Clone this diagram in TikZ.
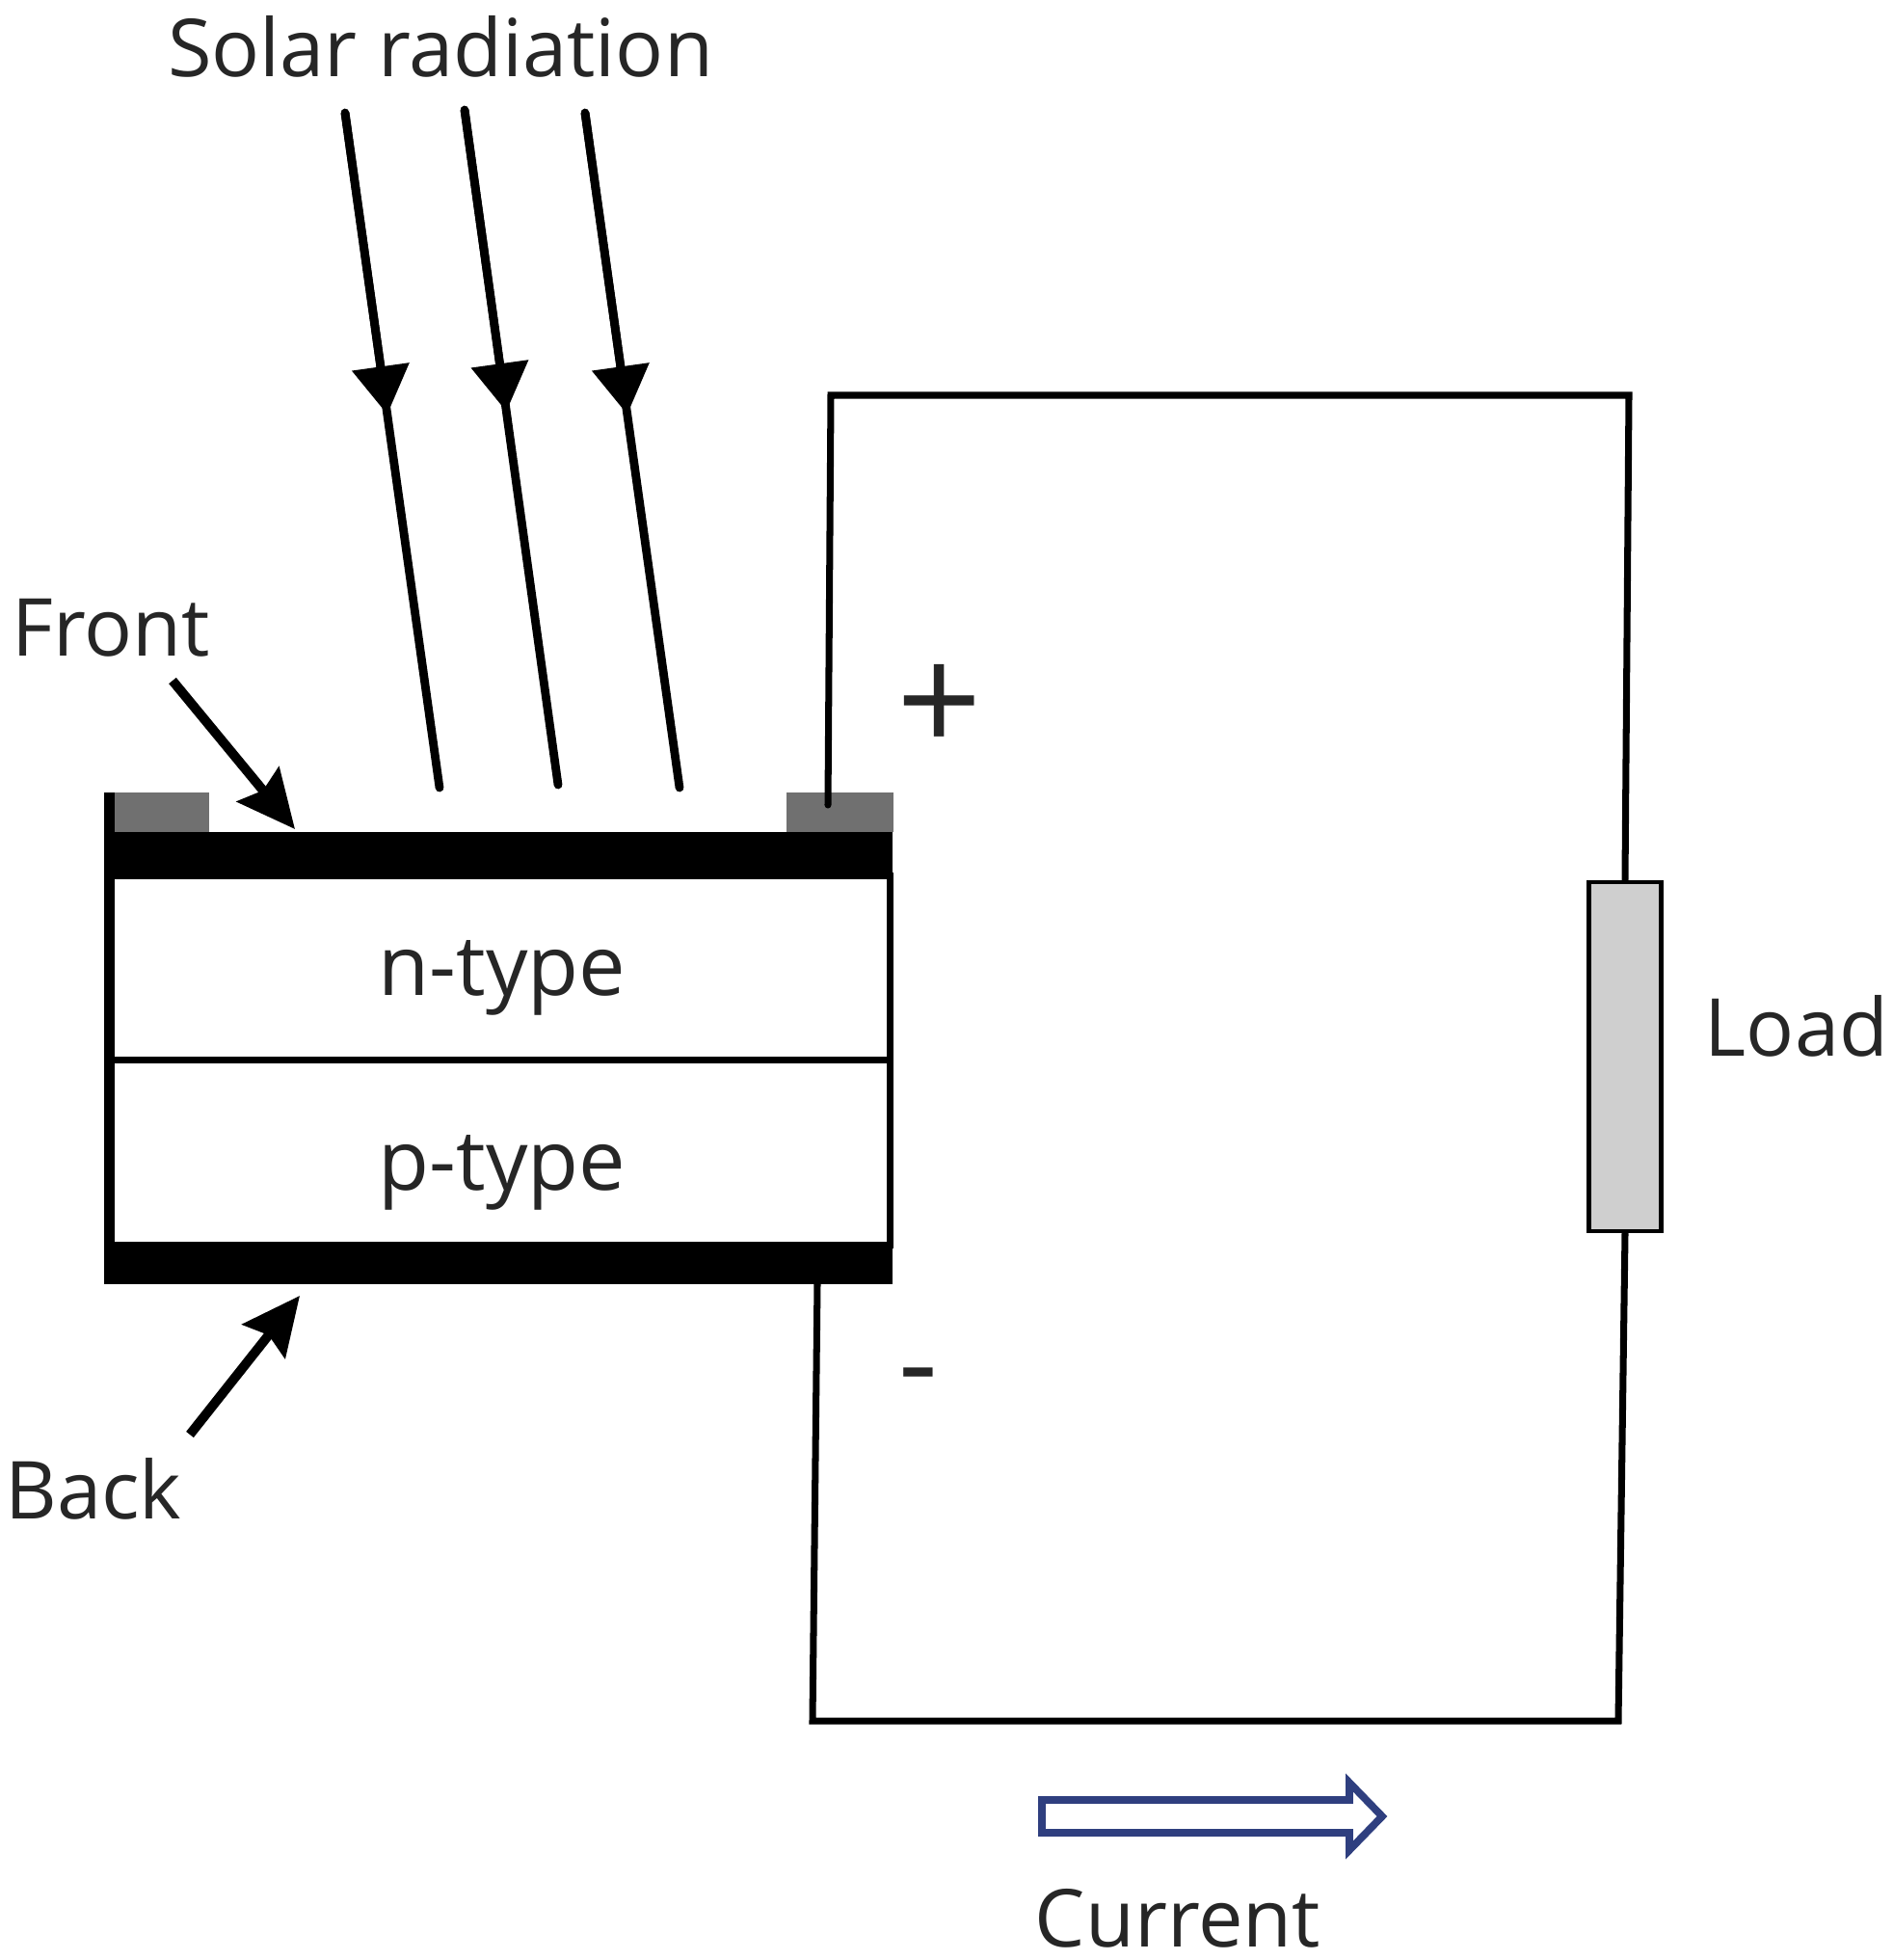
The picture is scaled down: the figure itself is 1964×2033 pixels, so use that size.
\documentclass[tikz,border=0pt]{standalone}
\usepackage{fontspec}
\setmainfont{Open Sans}
\usepackage{tikz}
\usetikzlibrary{arrows.meta,calc,positioning}
\definecolor{padgray}{HTML}{707070}
\definecolor{loadgray}{HTML}{cfcfcf}
\definecolor{currentblue}{HTML}{2f3f7f}

\begin{document}
\begin{tikzpicture}[x=0.01cm,y=-0.01cm,font=\fontsize{23.6}{28}\selectfont,
  layer/.style={draw, line width=2pt, fill=white, minimum width=8.1cm, minimum height=1.91cm, inner sep=0pt},
  layertext/.style={inner sep=0pt, text=black!85, font=\fontsize{24.6}{29}\selectfont},
  contact/.style={fill=black, minimum width=8.18cm, inner sep=0pt},
  pad/.style={fill=padgray, inner sep=0pt, minimum height=0.41cm},
  wire/.style={line width=2pt, line cap=round, line join=miter},
  ray/.style={line width=2.5pt, line cap=round},
  rayhead/.style={line width=2.5pt, -{Triangle[length=0.5cm, width=0.58cm]}},
  pointer/.style={line width=2.8pt, -{Stealth[length=0.6cm, width=0.56cm, inset=0.08cm]}},
  lab/.style={inner sep=0pt, text=black!85}]
\useasboundingbox (0,0) rectangle (1964,2033);
\node[layer] (ntype) at (518.5,1004.5) {};
\node[layer] (ptype) at (518.5,1195.5) {};
\node[layertext] (ntext) at (521,1014) {n-type};
\node[layertext] (ptext) at (521,1216) {p-type};
\node[pad, minimum width=0.98cm] (padl) at (168,842.5) {};
\node[pad, minimum width=1.11cm] (padr) at (871.5,842.5) {};
\node[contact, minimum height=0.46cm] (front) at (517,886) {};
\node[contact, minimum height=0.41cm] (back) at (517,1311.5) {};
\node[fill=black, inner sep=0pt, minimum width=0.11cm, minimum height=5.1cm] (wall) at (113.5,1077) {};
\node[draw, line width=1.3pt, fill=loadgray, minimum width=0.75cm, minimum height=3.62cm, inner sep=0pt] (load) at (1686,1096) {};
\node[lab] (solar) at (457,48) {Solar radiation};
\node[lab] (frontlab) at (115,651) {Front};
\node[lab] (backlab) at (97,1544) {Back};
\node[lab] (loadlab) at (1864,1064) {Load};
\node[lab, font=\fontsize{44}{48}\selectfont] (plus) at (975,735) {+};
\node[lab, font=\fontsize{36}{40}\selectfont] (minus) at (953,1438) {-};
\node[lab] (currentlab) at (1222,1990) {Current};
% sunlight
\coordinate (r1a) at (358,117); \coordinate (r1b) at (456,817);
\coordinate (r2a) at (482,114); \coordinate (r2b) at (579,814);
\coordinate (r3a) at (607,117); \coordinate (r3b) at (705,817);
\foreach \i in {1,2,3} {
  \draw[ray] (r\i a) -- (r\i b);
  \draw[rayhead] (r\i a) -- ($(r\i a)!0.447!(r\i b)$);
}
% circuit
\coordinate (tap) at (859,835); \coordinate (tl) at (862,410); \coordinate (tr) at (1690,410);
\coordinate (bl) at (843,1785); \coordinate (br) at (1679,1785); \coordinate (tapb) at (848,1332);
\draw[wire] (tap) -- (tl) -- (tr) -- (load.north);
\draw[wire] (load.south) -- (br) -- (bl) -- (tapb);
% pointers
\coordinate (fa) at (179,706); \coordinate (fb) at (306,860);
\coordinate (ba) at (197,1488); \coordinate (bb) at (311,1344);
\draw[pointer] (fa) -- (fb);
\draw[pointer] (ba) -- (bb);
% current direction
\draw[currentblue, line width=2.2pt, fill=white] (1081,1867) -- (1400,1867) -- (1400,1849) -- (1434,1884) -- (1400,1919) -- (1400,1901) -- (1081,1901) -- cycle;
\end{tikzpicture}
\end{document}
